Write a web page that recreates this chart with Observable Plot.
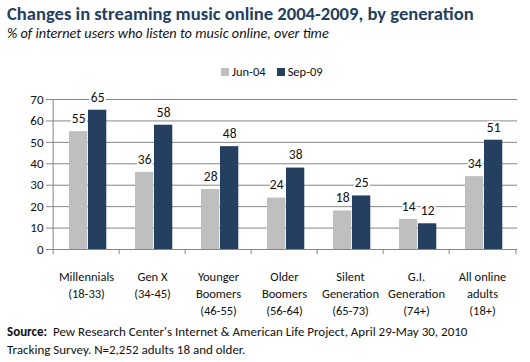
<!DOCTYPE html>
<html><head><meta charset="utf-8">
<script src="https://cdn.jsdelivr.net/npm/d3@7"></script>
<script src="https://cdn.jsdelivr.net/npm/@observablehq/plot@0.6"></script>
<style>
body{margin:0;background:#fff;font-family:Carlito,Lato,"Open Sans",sans-serif;width:530px;height:362px;overflow:hidden;position:relative}
#title{position:absolute;left:7px;top:4px;font-weight:bold;font-size:18.6px;line-height:19px;color:#243f60;white-space:nowrap}
#sub{position:absolute;left:7px;top:25px;font-style:italic;font-size:14.3px;line-height:16px;color:#111;white-space:nowrap}
#legend{position:absolute;left:221px;top:64px;font-size:12.5px;color:#111;white-space:nowrap}
#legend span.sw{display:inline-block;width:8px;height:8px;margin-right:3px;vertical-align:0px}
#chart{position:absolute;left:0;top:85px}
#src{position:absolute;left:7px;top:323px;font-size:13px;color:#111;line-height:18px;white-space:nowrap}
</style></head><body>
<div id="title">Changes in streaming music online 2004-2009, by generation</div>
<div id="sub">% of internet users who listen to music online, over time</div>
<div id="legend"></div>
<div id="chart"></div>
<div id="src"><b>Source:</b>&nbsp; Pew Research Center's Internet &amp; American Life Project, April 29-May 30, 2010<br>Tracking Survey. N=2,252 adults 18 and older.</div>
<script>
const categories = ["Millennials\n(18-33)","Gen X\n(34-45)","Younger\nBoomers\n(46-55)","Older\nBoomers\n(56-64)","Silent\nGeneration\n(65-73)","G.I.\nGeneration\n(74+)","All online\nadults\n(18+)"];
const seriesNames = ["Jun-04","Sep-09"];
const jun04 = [55,36,28,24,18,14,34];
const sep09 = [65,58,48,38,25,12,51];
const yTicks = [0,10,20,30,40,50,60,70];
const colors = ["#bfbfbf","#243f60"];

const data = [];
categories.forEach((c,i)=>{
  data.push({cat:c, series:seriesNames[0], value:jun04[i]});
  data.push({cat:c, series:seriesNames[1], value:sep09[i]});
});

const W=530, H=230, ml=50, mr=13, mt=14, mb=66;
const bw = (W-ml-mr)/categories.length;
const barW = 19;
const leftInset = 16;
const insetsFor = s => s===seriesNames[0]
  ? {insetLeft:leftInset, insetRight:bw-leftInset-barW}
  : {insetLeft:leftInset+barW, insetRight:bw-leftInset-2*barW};
const centerDx = s => s===seriesNames[0] ? (leftInset+barW/2-bw/2) : (leftInset+1.5*barW-bw/2);

const lg = document.getElementById("legend");
seriesNames.forEach((s,i)=>{
  const el=document.createElement("span");
  el.style.marginRight = i===0 ? "11px":"0";
  el.innerHTML=`<span class="sw" style="background:${colors[i]}"></span>${s}`;
  lg.appendChild(el);
});

const axisColor = "#868686";
const chart = Plot.plot({
  width:W, height:H, marginLeft:ml, marginRight:mr, marginTop:mt, marginBottom:mb,
  style:{fontFamily:"Carlito,Lato,'Open Sans',sans-serif", fontSize:"12.5px", color:"#111", overflow:"visible"},
  x:{domain:categories, padding:0, axis:null},
  y:{domain:[0,70], axis:null},
  marks:[
    Plot.gridY(yTicks.filter(d=>d>0), {stroke:axisColor, strokeOpacity:1, strokeWidth:1}),
    ...seriesNames.map((s,i)=>Plot.barY(data.filter(d=>d.series===s), {x:"cat", y:"value", fill:colors[i], ...insetsFor(s)})),
    ...seriesNames.map((s,i)=>Plot.text(data.filter(d=>d.series===s), {x:"cat", y:"value", text:d=>String(d.value), dx:centerDx(s), dy:-13, fontSize:13.5, fill:"#111", stroke:"white", strokeWidth:4, paintOrder:"stroke"})),
    Plot.axisY(yTicks, {label:null, tickSize:4, tickPadding:3, fontSize:13, stroke:axisColor, fill:"#111"}),
    Plot.ruleX([categories[0]], {x:d=>d, dx:-bw/2, y1:0, y2:70, stroke:axisColor}),
    Plot.ruleY([0], {stroke:axisColor}),
    Plot.ruleX(categories, {x:d=>d, dx:-bw/2, y1:0, y2:-2.4, stroke:axisColor}),
    Plot.ruleX([categories[categories.length-1]], {x:d=>d, dx:bw/2, y1:0, y2:-2.4, stroke:axisColor}),
    Plot.axisX({label:null, tickSize:0, tickPadding:20, fontSize:12.5, fill:"#111", lineHeight:1.33, textAnchor:"middle"})
  ]
});
document.getElementById("chart").appendChild(chart);
</script>
</body></html>
